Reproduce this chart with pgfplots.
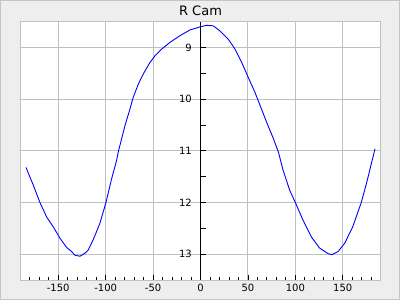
\documentclass[border=0pt]{standalone}
\usepackage{fontspec}
\setmainfont{DejaVu Sans}
\usepackage{pgfplots}
\pgfplotsset{compat=1.18}
\definecolor{bgc}{HTML}{EEEEEE}
\definecolor{brd}{HTML}{C4C4C4}
\definecolor{gridc}{HTML}{C0C0C0}
\begin{document}
\begin{tikzpicture}
\useasboundingbox (-20.3bp,-20bp) rectangle (379.7bp,280bp);
\filldraw[fill=bgc, draw=brd, line width=1bp] (-19.8bp,-19.5bp) rectangle (379.2bp,279.5bp);
\pgfplotsset{
  common/.style={
    at={(0,0)}, anchor=south west,
    scale only axis, width=360.4bp, height=258.3bp,
    xmin=-190, xmax=190, ymin=8.5, ymax=13.5, y dir=reverse,
    /pgf/number format/assume math mode=true,
    ticklabel style={font=\fontsize{10bp}{12bp}\selectfont, text=black},
  }
}
\begin{axis}[common,
  axis background/.style={fill=white},
  axis line style={draw=gridc, line width=1bp},
  grid=major, major grid style={draw=gridc, line width=1bp},
  xtick={-150,-100,-50,0,50,100,150},
  minor xtick={-180,-170,-160,-140,-130,-120,-110,-90,-80,-70,-60,-40,-30,-20,-10,10,20,30,40,60,70,80,90,110,120,130,140,160,170,180},
  xtick pos=bottom, tick align=inside,
  major tick length=5bp, minor tick length=3bp,
  xtick style={draw=black, line width=0.8bp},
  xticklabel style={anchor=north, inner sep=0pt, yshift=-4.3bp},
  ytick={9,10,11,12,13}, yticklabels={}, ytick style={draw=none},
  title={R Cam},
  every axis title/.style={at={(0.5,1)}, anchor=base, yshift=6.7bp, inner sep=0pt, font=\fontsize{13bp}{15bp}\selectfont},
]
\addplot[blue, line width=0.9bp, mark=none] coordinates {
(-184,11.32) (-176.4,11.66) (-169.3,12.0) (-162.2,12.28) (-155.3,12.47)
(-148.2,12.69) (-141.1,12.87) (-135.9,12.95) (-132.4,13.02) (-127.1,13.04)
(-121.8,12.98) (-118.4,12.92) (-113.1,12.72) (-106,12.40) (-99.7,12.0)
(-93.7,11.54) (-88.4,11.18) (-86.7,11.02) (-79.6,10.51) (-74.4,10.19)
(-70.9,9.96) (-65.6,9.71) (-60.3,9.51) (-53.3,9.29) (-48,9.16) (-40.9,9.03)
(-32.2,8.90) (-21.6,8.77) (-11.1,8.66) (-0.5,8.60) (6.5,8.57) (13.5,8.58)
(20.6,8.68) (29.3,8.84) (36.4,9.03) (43.5,9.29) (50.4,9.58) (57.5,9.87)
(62.8,10.12) (69.8,10.45) (76.8,10.76) (82.1,11.02) (87,11.37) (94,11.76)
(100,12.0) (108,12.34) (117,12.67) (125.5,12.88) (134.5,12.99) (138.5,13.01)
(145,12.95) (152,12.79) (160.5,12.47) (169.5,12.0) (175,11.63) (184,10.96)
};
\end{axis}
\begin{axis}[common,
  axis x line=none, axis y line=center,
  axis line style={draw=black, line width=1bp, -},
  ytick={9,10,11,12,13},
  minor ytick={9.5,10.5,11.5,12.5},
  ytick align=inside,
  major tick length=5bp, minor tick length=5bp,
  ytick style={draw=black, line width=0.8bp},
  yticklabel style={anchor=east, inner sep=0pt, xshift=-8.5bp},
]
\end{axis}
\end{tikzpicture}
\end{document}
